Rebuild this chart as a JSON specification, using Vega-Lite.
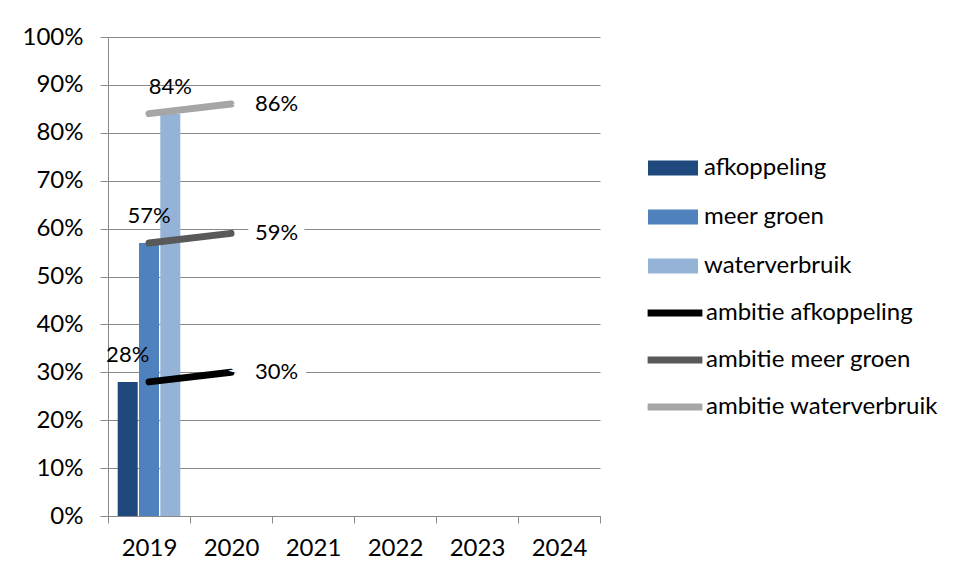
{
  "$schema": "https://vega.github.io/schema/vega-lite/v6.json",
  "autosize": "none",
  "width": 492,
  "height": 479,
  "padding": {"left": 108, "top": 37, "right": 357, "bottom": 61},
  "background": "white",
  "config": {
    "view": {"stroke": null},
    "font": "Lato",
    "axis": {"labelFont": "Lato", "labelFontSize": 24, "labelColor": "#000000", "domainColor": "#898989", "tickColor": "#898989", "gridColor": "#898989", "title": null},
    "legend": {"labelFont": "Lato", "labelFontSize": 24, "labelColor": "#000000", "title": null, "labelLimit": 0}
  },
  "data": {
    "values": [
      {"jaar": "2019", "reeks": "afkoppeling", "soort": "bar", "waarde": 0.28},
      {"jaar": "2019", "reeks": "meer groen", "soort": "bar", "waarde": 0.57},
      {"jaar": "2019", "reeks": "waterverbruik", "soort": "bar", "waarde": 0.84},
      {"jaar": "2019", "reeks": "ambitie afkoppeling", "soort": "lijn", "waarde": 0.28},
      {"jaar": "2020", "reeks": "ambitie afkoppeling", "soort": "lijn", "waarde": 0.30},
      {"jaar": "2019", "reeks": "ambitie meer groen", "soort": "lijn", "waarde": 0.57},
      {"jaar": "2020", "reeks": "ambitie meer groen", "soort": "lijn", "waarde": 0.59},
      {"jaar": "2019", "reeks": "ambitie waterverbruik", "soort": "lijn", "waarde": 0.84},
      {"jaar": "2020", "reeks": "ambitie waterverbruik", "soort": "lijn", "waarde": 0.86}
    ]
  },
  "encoding": {
    "x": {
      "field": "jaar", "type": "nominal",
      "scale": {"domain": ["2019", "2020", "2021", "2022", "2023", "2024"], "paddingInner": 0, "paddingOuter": 0},
      "axis": {"labelAngle": 0, "tickBand": "extent", "tickSize": 7, "labelPadding": 13, "grid": false}
    },
    "y": {
      "field": "waarde", "type": "quantitative",
      "scale": {"domain": [0, 1], "nice": false},
      "axis": {"values": [0, 0.1, 0.2, 0.3, 0.4, 0.5, 0.6, 0.7, 0.8, 0.9, 1], "format": ".0%", "tickSize": 8, "labelPadding": 17, "grid": true}
    }
  },
  "layer": [
    {
      "transform": [{"filter": "datum.soort === 'bar'"}],
      "mark": {"type": "bar"},
      "encoding": {
        "xOffset": {"field": "reeks", "type": "nominal", "scale": {"domain": ["afkoppeling", "meer groen", "waterverbruik"], "paddingInner": 0.06, "paddingOuter": 0.455}},
        "fill": {
          "field": "reeks", "type": "nominal",
          "scale": {"domain": ["afkoppeling", "meer groen", "waterverbruik"], "range": ["#1f497d", "#4f81bd", "#95b3d7"]},
          "legend": {"orient": "none", "legendX": 540, "legendY": 106, "symbolType": "M-1,-0.3H1V0.3H-1Z", "symbolSize": 2500, "symbolStrokeWidth": 0, "labelOffset": 6, "rowPadding": 12}
        }
      }
    },
    {
      "transform": [{"filter": "datum.soort === 'lijn'"}],
      "mark": {"type": "line", "strokeWidth": 7, "strokeCap": "round"},
      "encoding": {
        "stroke": {
          "field": "reeks", "type": "nominal",
          "scale": {"domain": ["ambitie afkoppeling", "ambitie meer groen", "ambitie waterverbruik"], "range": ["#000000", "#595959", "#a6a6a6"]},
          "legend": {"orient": "none", "legendX": 536, "legendY": 245, "symbolType": "stroke", "symbolSize": 3000, "symbolStrokeWidth": 7, "labelOffset": 0, "rowPadding": 2}
        }
      }
    },
    {
      "transform": [{"filter": "datum.soort === 'bar'"}],
      "mark": {"type": "text", "fontSize": 22, "baseline": "middle", "dy": -27, "fill": "#000000"},
      "encoding": {
        "xOffset": {"field": "reeks", "type": "nominal"},
        "text": {"field": "waarde", "type": "quantitative", "format": ".0%"}
      }
    },
    {
      "transform": [{"filter": "datum.soort === 'lijn' && datum.jaar === '2020'"}],
      "mark": {"type": "text", "fontSize": 22, "baseline": "middle", "align": "left", "dx": 24, "stroke": "white", "strokeWidth": 18, "fill": "white"},
      "encoding": {
        "text": {"field": "waarde", "type": "quantitative", "format": ".0%"}
      }
    },
    {
      "transform": [{"filter": "datum.soort === 'lijn' && datum.jaar === '2020'"}],
      "mark": {"type": "text", "fontSize": 22, "baseline": "middle", "align": "left", "dx": 24, "fill": "#000000"},
      "encoding": {
        "text": {"field": "waarde", "type": "quantitative", "format": ".0%"}
      }
    }
  ]
}
